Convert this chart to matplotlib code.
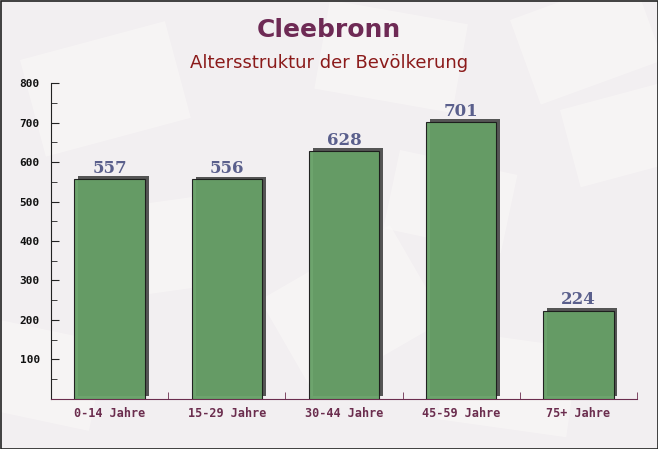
import numpy as np
import matplotlib
matplotlib.use("Agg")
import matplotlib.pyplot as plt
import matplotlib.patches as mpatches
import matplotlib.patheffects as pe
from matplotlib.ticker import MultipleLocator

## data
categories = ["0-14 Jahre", "15-29 Jahre", "30-44 Jahre", "45-59 Jahre", "75+ Jahre"]
values = [557, 556, 628, 701, 224]

fig = plt.figure(figsize=(6.58, 4.49), dpi=100)
fig.patch.set_facecolor("#f2eff1")

# faint envelope-like shapes in the background
bg = fig.add_axes([0, 0, 1, 1], zorder=-1)
bg.set_xlim(0, 658)
bg.set_ylim(449, 0)
bg.axis("off")
shapes = [(20, 60, 150, 100, -15), (330, 0, 140, 90, 10), (510, 20, 130, 90, -20),
          (400, 150, 120, 80, 12), (100, 210, 120, 90, -8), (260, 300, 150, 110, -30),
          (450, 330, 130, 90, 8), (560, 110, 120, 80, -15), (0, 320, 110, 90, 12)]
for x0, y0, w, h, ang in shapes:
    bg.add_patch(mpatches.Rectangle((x0, y0), w, h, angle=ang, facecolor="#faf8f7",
                                    edgecolor="none", alpha=0.6))
bg.add_patch(mpatches.Rectangle((0.5, 0.5), 657, 448, fill=False, edgecolor="#222222", lw=1.2))

ax = fig.add_axes([0.0775, 0.1114, 0.8905, 0.7037])
ax.patch.set_alpha(0)

x = np.arange(len(categories))
bars = ax.bar(x, values, width=0.6, color="#66a066", edgecolor="#1a1a1a", linewidth=0.8,
              alpha=0.95, zorder=3)
for b in bars:
    b.set_path_effects([pe.SimplePatchShadow(offset=(2.8, 2.0), shadow_rgbFace="#555555",
                                             alpha=1.0), pe.Normal()])

for xi, v in zip(x, values):
    ax.text(xi, v + 6, str(v), ha="center", va="bottom", fontsize=12, fontweight="bold",
            family="DejaVu Serif", color="#5a5f8c", zorder=4)

ax.set_xlim(-0.5, len(categories) - 0.5)
ax.set_ylim(0, 800)
ax.yaxis.set_minor_locator(MultipleLocator(50))
ax.set_yticks([100, 200, 300, 400, 500, 600, 700, 800])
ax.set_xticks(x)
ax.set_xticklabels(categories)
ax.set_xticks(np.arange(0.5, len(categories), 1), minor=True)

ax.spines["top"].set_visible(False)
ax.spines["right"].set_visible(False)
ax.spines["left"].set_color("#222222")
ax.spines["bottom"].set_color("#6b2d4e")

ax.tick_params(axis="y", which="major", direction="in", length=6, color="#222222",
               labelsize=8, labelcolor="#111111", pad=8)
ax.tick_params(axis="y", which="minor", direction="in", length=4, color="#222222")
ax.tick_params(axis="x", which="major", length=0, labelsize=8.5, labelcolor="#6b2d4e", pad=6)
ax.tick_params(axis="x", which="minor", direction="in", length=5, color="#6b2d4e")
for lbl in ax.get_yticklabels() + ax.get_xticklabels():
    lbl.set_family("DejaVu Sans Mono")
    lbl.set_fontweight("bold")

fig.text(0.5, 1 - 30 / 449, "Cleebronn", ha="center", va="center", fontsize=18,
         fontweight="bold", color="#6e2a55")
fig.text(0.5, 1 - 63 / 449, "Altersstruktur der Bevölkerung", ha="center", va="center",
         fontsize=13, color="#8b1a1a")

fig.savefig("out.png", dpi=100, facecolor=fig.get_facecolor())
